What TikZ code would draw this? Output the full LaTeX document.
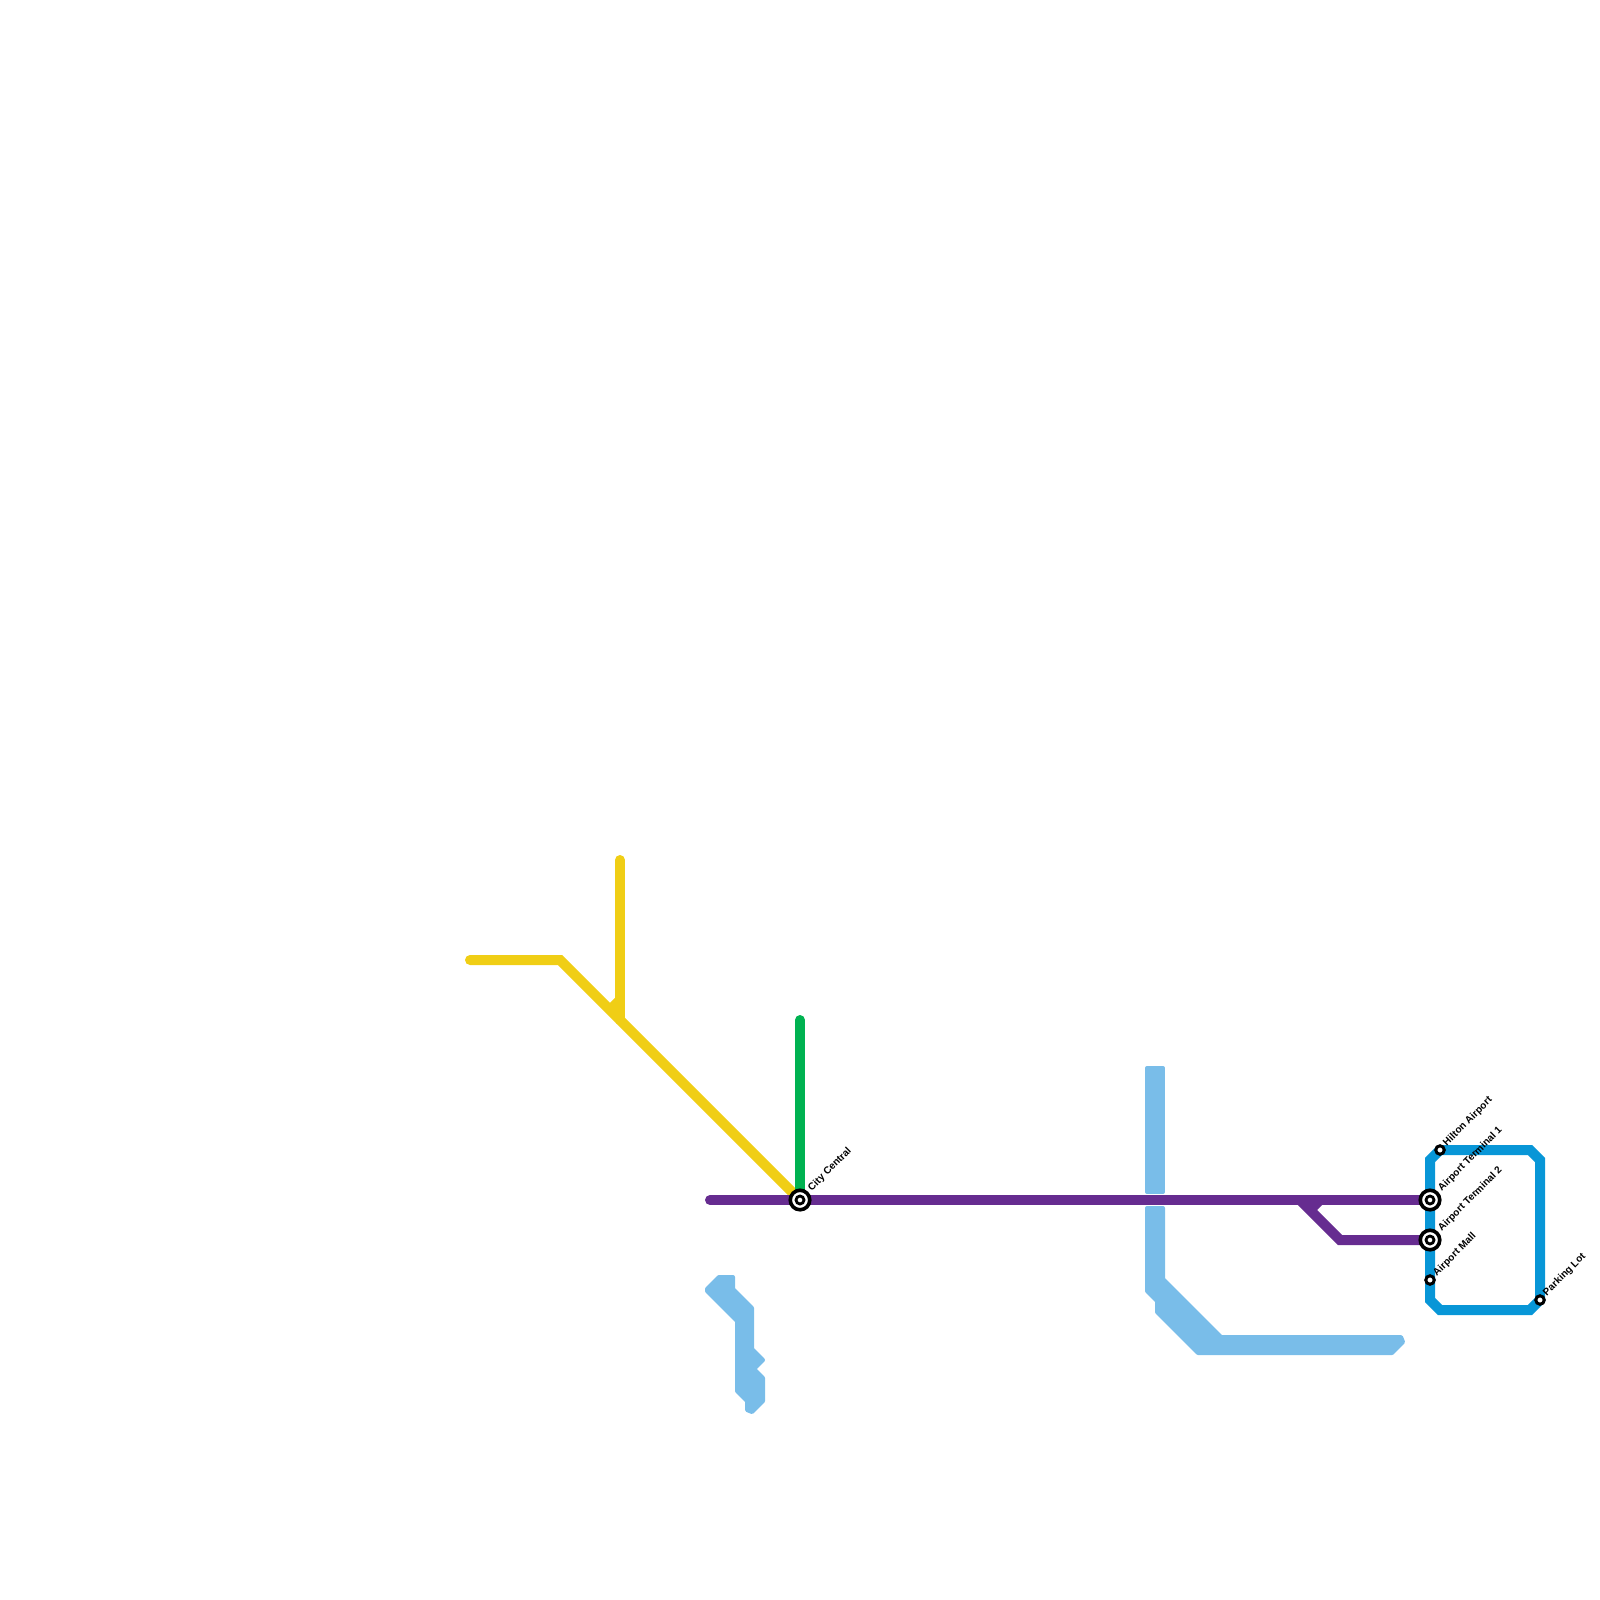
\documentclass[tikz,border=0pt]{standalone}
\usepackage{xcolor}
\usepackage{fontspec}
\setmainfont{Liberation Sans}
\definecolor{LineYellow}{HTML}{F0CE15}
\definecolor{LineGreen}{HTML}{00B251}
\definecolor{LinePurple}{HTML}{662C90}
\definecolor{LineBlue}{HTML}{0896D7}
\definecolor{LakeBlue}{HTML}{79BDE9}
\tikzset{
  metroline/.style={line width=10pt, line cap=round, line join=miter},
  lake/.style={fill=LakeBlue, draw=LakeBlue, line width=4pt, line join=round},
  stopnode/.style={circle, draw=black, fill=white, line width=3pt,
    inner sep=0pt, minimum size=8.5pt},
  hubnode/.style={circle, draw=black, fill=white, line width=3.6pt,
    inner sep=0pt, minimum size=19.5pt,
    path picture={\draw[black, line width=2.8pt]
      (path picture bounding box.center) circle (4pt);}},
  stoplabel/.style={xshift=5pt, yshift=5.5pt, rotate=45, anchor=west,
    inner sep=0pt, font=\fontsize{10}{11}\selectfont\bfseries},
  hublabel/.style={xshift=10pt, yshift=10.5pt, rotate=45, anchor=west,
    inner sep=0pt, font=\fontsize{10}{11}\selectfont\bfseries},
}

\begin{document}
\begin{tikzpicture}[x=1pt, y=-1pt]
  \useasboundingbox (0,0) rectangle (1600,1600);

  % stations
  \coordinate (cityPos) at (800,1200);
  \coordinate (hiltonPos) at (1440,1150);
  \coordinate (termOnePos) at (1430,1200);
  \coordinate (termTwoPos) at (1430,1240);
  \coordinate (mallPos) at (1430,1280);
  \coordinate (parkingPos) at (1540,1300);

  % free line ends
  \coordinate (yellowWest) at (470,960);
  \coordinate (yellowBend) at (560,960);
  \coordinate (yellowNorth) at (620,860);
  \coordinate (yellowJoin) at (620,1020);
  \coordinate (greenNorth) at (800,1020);
  \coordinate (purpleWest) at (710,1200);
  \coordinate (purpleFork) at (1300,1200);
  \coordinate (purpleBend) at (1340,1240);

  % water
  \draw[lake] (707,1289) -- (719,1277) -- (733,1277) -- (733,1289)
    -- (752,1308) -- (752,1349) -- (763,1360) -- (754,1369) -- (763,1378)
    -- (763,1401) -- (752,1412) -- (747,1410) -- (747,1401) -- (737,1391)
    -- (737,1321) -- (707,1291) -- cycle;
  \draw[lake] (1147,1068) -- (1163,1068) -- (1163,1192) -- (1147,1192) -- cycle;
  \draw[lake] (1147,1208) -- (1163,1208) -- (1163,1279) -- (1221,1337)
    -- (1401,1337) -- (1403,1342) -- (1392,1353) -- (1198,1353)
    -- (1157,1312) -- (1157,1301) -- (1147,1291) -- cycle;

  % lines
  \draw[metroline, LineYellow] (yellowWest) -- (yellowBend) -- (cityPos);
  \draw[metroline, LineYellow] (yellowNorth) -- (yellowJoin);
  \draw[metroline, LineYellow, line cap=butt] (620,1000) -- (610,1010);
  \draw[metroline, LineGreen] (greenNorth) -- (cityPos);
  \draw[metroline, LinePurple] (purpleWest) -- (termOnePos);
  \draw[metroline, LinePurple, line cap=butt] (purpleFork) -- (purpleBend) -- (termTwoPos);
  \draw[metroline, LinePurple, line cap=butt] (1320,1200) -- (1310,1210);
  \draw[metroline, LineBlue, line cap=butt] (hiltonPos) -- (1530,1150) -- (1540,1160)
    -- (parkingPos) -- (1530,1310) -- (1440,1310) -- (1430,1300) -- (mallPos)
    -- (termTwoPos) -- (termOnePos) -- (1430,1160) -- cycle;

  \node[hubnode] (city) at (cityPos) {};
  \node[hubnode] (termOne) at (termOnePos) {};
  \node[hubnode] (termTwo) at (termTwoPos) {};
  \node[stopnode] (hilton) at (hiltonPos) {};
  \node[stopnode] (mall) at (mallPos) {};
  \node[stopnode] (parking) at (parkingPos) {};

  \node[hublabel] (cityLabel) at (city) {City Central};
  \node[hublabel] (termOneLabel) at (termOne) {Airport Terminal 1};
  \node[hublabel] (termTwoLabel) at (termTwo) {Airport Terminal 2};
  \node[stoplabel] (hiltonLabel) at (hilton) {Hilton Airport};
  \node[stoplabel] (mallLabel) at (mall) {Airport Mall};
  \node[stoplabel] (parkingLabel) at (parking) {Parking Lot};
\end{tikzpicture}
\end{document}
